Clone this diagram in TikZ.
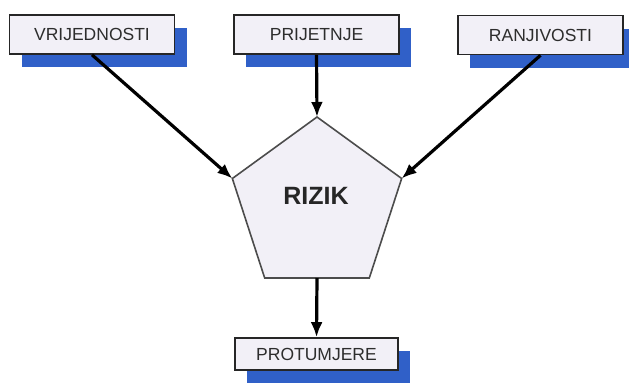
\documentclass[tikz,border=0pt]{standalone}
\usepackage{fontspec}
\setmainfont{Liberation Sans}
\usetikzlibrary{shapes.geometric,shadows,arrows.meta}
\definecolor{shadowblue}{RGB}{48,96,200}
\definecolor{boxfill}{RGB}{242,240,247}
\definecolor{textgray}{RGB}{45,45,45}
\begin{document}
\begin{tikzpicture}[
    x=1pt, y=-1pt,
    factor/.style={rectangle, draw=black!85, line width=1.6pt, fill=boxfill, text=textgray,
        minimum width=165pt, minimum height=39pt, inner sep=0pt,
        font=\fontsize{17.5}{20}\selectfont,
        drop shadow={shadow xshift=12pt, shadow yshift=-13pt, fill=shadowblue, opacity=1}},
    risk/.style={regular polygon, regular polygon sides=5, draw=black!70, line width=1.6pt,
        fill=boxfill, minimum size=178pt, inner sep=0pt, outer sep=0pt},
    arrow/.style={-{Latex[length=15pt,width=12pt]}, line width=3.2pt}
]
    \useasboundingbox (0,0) rectangle (629,383);

    \node[factor] (vrijednosti) at (92,34.5) {VRIJEDNOSTI};
    \node[factor] (prijetnje) at (316.5,34.5) {PRIJETNJE};
    \node[factor] (ranjivosti) at (540.5,35) {RANJIVOSTI};

    \node[risk] (rizik) at (317,206) {};
    \node[font=\fontsize{25}{28}\selectfont\bfseries, text=black!85] (riziklabel) at (316,196) {RIZIK};

    \node[factor, minimum width=163pt, minimum height=32pt] (protumjere) at (316.5,354) {PROTUMJERE};

    \draw[arrow] (vrijednosti.south) -- (rizik.corner 2);
    \draw[arrow] (prijetnje.south) -- (rizik.corner 1);
    \draw[arrow] (ranjivosti.south) -- (rizik.corner 5);
    \draw[arrow] (rizik.side 3 |- 0,278) -- (protumjere.north);
\end{tikzpicture}
\end{document}
